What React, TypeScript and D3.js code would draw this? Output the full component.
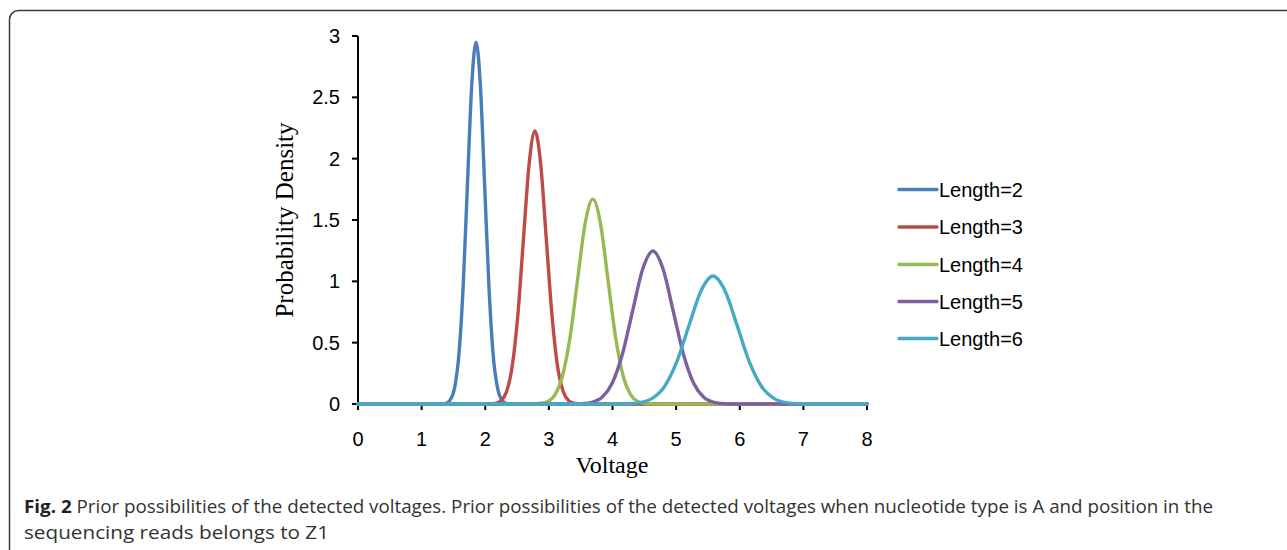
import React from "react";
import * as d3 from "d3";

const seriesNames = ["Length=2", "Length=3", "Length=4", "Length=5", "Length=6"];
const seriesColors = ["#4A7EBB", "#BE4B48", "#98B954", "#7D60A0", "#46AAC5"];

const xLength2 = [0, 1.315, 1.383, 1.45, 1.518, 1.585, 1.653, 1.72, 1.788, 1.855, 1.923, 1.99, 2.058, 2.125, 2.193, 2.26, 2.328, 2.395, 8];
const yLength2 = [0, 0.001, 0.006, 0.033, 0.13, 0.399, 0.958, 1.789, 2.603, 2.95, 2.603, 1.789, 0.958, 0.399, 0.13, 0.033, 0.006, 0.001, 0];

const xLength3 = [0, 2.064, 2.154, 2.243, 2.333, 2.422, 2.512, 2.601, 2.691, 2.78, 2.87, 2.959, 3.049, 3.138, 3.228, 3.317, 3.407, 3.496, 8];
const yLength3 = [0, 0.001, 0.005, 0.025, 0.098, 0.301, 0.722, 1.349, 1.964, 2.225, 1.964, 1.349, 0.722, 0.301, 0.098, 0.025, 0.005, 0.001, 0];

const xLength4 = [0, 2.734, 2.854, 2.973, 3.093, 3.212, 3.332, 3.451, 3.571, 3.69, 3.81, 3.929, 4.049, 4.168, 4.288, 4.407, 4.527, 4.646, 8];
const yLength4 = [0, 0.0005, 0.0037, 0.0185, 0.0733, 0.226, 0.542, 1.013, 1.474, 1.67, 1.474, 1.013, 0.542, 0.226, 0.0733, 0.0185, 0.0037, 0.0005, 0];

const xLength5 = [0, 3.355, 3.515, 3.675, 3.835, 3.995, 4.155, 4.315, 4.475, 4.635, 4.795, 4.955, 5.115, 5.275, 5.435, 5.595, 5.755, 5.915, 8];
const yLength5 = [0, 0.0004, 0.0027, 0.0138, 0.0547, 0.169, 0.405, 0.756, 1.1, 1.247, 1.1, 0.756, 0.405, 0.169, 0.0547, 0.0138, 0.0027, 0.0004, 0];

const xLength6 = [0, 4.05, 4.241, 4.433, 4.624, 4.815, 5.006, 5.198, 5.389, 5.58, 5.771, 5.963, 6.154, 6.345, 6.536, 6.728, 6.919, 7.11, 8];
const yLength6 = [0, 0.0003, 0.0023, 0.0116, 0.0458, 0.141, 0.339, 0.633, 0.92, 1.043, 0.92, 0.633, 0.339, 0.141, 0.0458, 0.0116, 0.0023, 0.0003, 0];

const xTicks = [0, 1, 2, 3, 4, 5, 6, 7, 8];
const yTicks = [0, 0.5, 1, 1.5, 2, 2.5, 3];

const captionBold = "Fig. 2";
const captionLine1 =
  " Prior possibilities of the detected voltages. Prior possibilities of the detected voltages when nucleotide type is A and position in the";
const captionLine2 = "sequencing reads belongs to Z1";

const seriesX = [xLength2, xLength3, xLength4, xLength5, xLength6];
const seriesY = [yLength2, yLength3, yLength4, yLength5, yLength6];

export default function App() {
  const W = 1287;
  const H = 550;
  const left = 358;
  const right = 867;
  const top = 36;
  const bottom = 404;

  const x = d3.scaleLinear().domain([0, 8]).range([left, right]);
  const y = d3.scaleLinear().domain([0, 3]).range([bottom, top]);

  const line = d3
    .line<[number, number]>()
    .x((d) => x(d[0]))
    .y((d) => y(d[1]))
    .curve(d3.curveMonotoneX);

  const sans = "Liberation Sans, Arial, sans-serif";
  const serif = "Liberation Serif, Times New Roman, serif";

  const legendY = [189.5, 227, 264.5, 301.5, 338.5];

  return (
    <svg
      width={W}
      height={H}
      style={{ position: "absolute", left: 0, top: 0, display: "block" }}
    >
      <rect x={0} y={0} width={W} height={H} fill="#fff" />
      <rect
        x={9.5}
        y={10.5}
        width={1400}
        height={700}
        rx={9}
        ry={9}
        fill="none"
        stroke="#3a3a3a"
        strokeWidth={1.5}
      />

      {/* y axis */}
      <line x1={left} x2={left} y1={top} y2={bottom} stroke="#000" strokeWidth={2} />
      {yTicks.map((t) => (
        <g key={"y" + t}>
          <line x1={left - 6} x2={left} y1={y(t)} y2={y(t)} stroke="#000" strokeWidth={2} />
          <text
            x={340}
            y={y(t) + 7}
            textAnchor="end"
            fontFamily={sans}
            fontSize={20}
            fill="#000"
          >
            {t}
          </text>
        </g>
      ))}

      {/* x axis */}
      <line x1={left} x2={right} y1={bottom} y2={bottom} stroke="#000" strokeWidth={2} />
      {xTicks.map((t) => (
        <g key={"x" + t}>
          <line x1={x(t)} x2={x(t)} y1={bottom} y2={bottom + 6} stroke="#000" strokeWidth={2} />
          <text
            x={x(t)}
            y={446}
            textAnchor="middle"
            fontFamily={sans}
            fontSize={20}
            fill="#000"
          >
            {t}
          </text>
        </g>
      ))}

      {/* series */}
      {seriesX.map((xs, i) => {
        const pts = xs.map((v, j) => [v, seriesY[i][j]] as [number, number]);
        return (
          <path
            key={seriesNames[i]}
            d={line(pts) || ""}
            fill="none"
            stroke={seriesColors[i]}
            strokeWidth={3.4}
            strokeLinejoin="round"
            strokeLinecap="round"
          />
        );
      })}

      {/* axis titles */}
      <text x={612} y={473} textAnchor="middle" fontFamily={serif} fontSize={24} fill="#000">
        Voltage
      </text>
      <text
        transform="translate(293,220) rotate(-90)"
        textAnchor="middle"
        fontFamily={serif}
        fontSize={25}
        fill="#000"
      >
        Probability Density
      </text>

      {/* legend */}
      {seriesNames.map((n, i) => (
        <g key={"leg" + n}>
          <line
            x1={899}
            x2={937}
            y1={legendY[i]}
            y2={legendY[i]}
            stroke={seriesColors[i]}
            strokeWidth={3.4}
            strokeLinecap="round"
          />
          <text x={939} y={legendY[i] + 7} fontFamily={sans} fontSize={20} fill="#000">
            {n}
          </text>
        </g>
      ))}

      {/* caption */}
      <text
        x={24}
        y={513}
        fontFamily="Open Sans, sans-serif"
        fontSize={18}
        fill="#333"
        textLength={1189}
        lengthAdjust="spacingAndGlyphs"
      >
        <tspan fontWeight="bold" fill="#222">
          {captionBold}
        </tspan>
        {captionLine1}
      </text>
      <text
        x={24}
        y={539}
        fontFamily="Open Sans, sans-serif"
        fontSize={18}
        fill="#333"
        textLength={305}
        lengthAdjust="spacingAndGlyphs"
      >
        {captionLine2}
      </text>
    </svg>
  );
}
